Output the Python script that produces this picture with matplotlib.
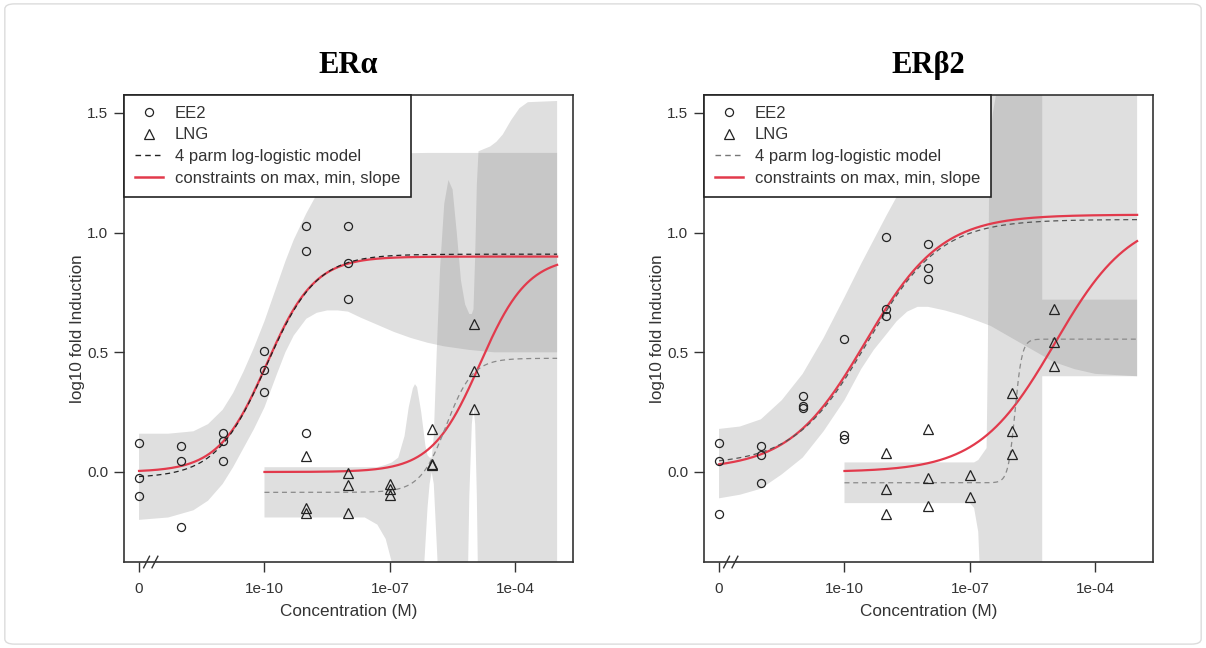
import numpy as np
import matplotlib.pyplot as plt
from matplotlib.lines import Line2D
from matplotlib.patches import FancyBboxPatch

plt.rcParams['font.family'] = ['Liberation Sans', 'DejaVu Sans']

# doses (M); 0 = solvent control, drawn at 1e-13 on the broken axis
ee2_dose = [0, 1e-12, 1e-11, 1e-10, 1e-9, 1e-8]
lng_dose = [1e-9, 1e-8, 1e-7, 1e-6, 1e-5]
ctrl_pos = 1e-13

# log10 fold induction, replicates per dose
era_ee2 = [[0.12, -0.025, -0.10], [0.108, 0.044, -0.229], [0.162, 0.13, 0.048],
           [0.505, 0.425, 0.335], [1.028, 0.925, 0.162], [1.028, 0.875, 0.723]]
era_lng = [[0.065, -0.152, -0.17], [-0.004, -0.053, -0.173], [-0.05, -0.07, -0.095],
           [0.18, 0.035, 0.028], [0.62, 0.422, 0.263]]
erb_ee2 = [[0.122, 0.048, -0.177], [0.11, 0.072, -0.048], [0.318, 0.277, 0.266],
           [0.554, 0.155, 0.138], [0.98, 0.681, 0.651], [0.953, 0.852, 0.806]]
erb_lng = [[0.08, -0.07, -0.177], [0.18, -0.025, -0.14], [-0.011, -0.104],
           [0.33, 0.173, 0.076], [0.679, 0.544, 0.443]]

# fitted LL.4 parameters: b, c, d, log10(e)
era_ee2_ll4 = [-0.72, -0.025, 0.91, -9.96]
era_ee2_con = [-0.755, 0.0, 0.90, -9.95]
era_lng_ll4 = [-1.377, -0.085, 0.475, -5.65]
era_lng_con = [-0.755, 0.0, 0.90, -4.85]
erb_ee2_ll4 = [-0.50, 0.03, 1.055, -9.45]
erb_ee2_con = [-0.478, 0.01, 1.075, -9.50]
erb_lng_ll4 = [-5.2, -0.045, 0.555, -5.92]
erb_lng_con = [-0.478, 0.0, 1.075, -4.97]

# confidence bands of the 4 parm fits (log10 dose, lower, upper)
era_ee2_bx = [-13, -12.3, -11.7, -11.35, -11, -10.75, -10.5, -10.25, -10, -9.7, -9.5, -9.3, -9,
              -8.75, -8.5, -8.25, -8, -7.7, -7.3, -6.9, -6.5, -6.1, -5.7, -5.1, -4.5, -3]
era_ee2_lo = [-0.20, -0.19, -0.16, -0.12, -0.05, 0.02, 0.10, 0.18, 0.27, 0.41, 0.50, 0.57, 0.64,
              0.665, 0.675, 0.675, 0.67, 0.645, 0.615, 0.585, 0.56, 0.54, 0.525, 0.51, 0.50, 0.50]
era_ee2_hi = [0.16, 0.16, 0.17, 0.20, 0.26, 0.33, 0.42, 0.52, 0.63, 0.78, 0.88, 0.97, 1.08,
              1.16, 1.22, 1.26, 1.285, 1.305, 1.32, 1.328, 1.332, 1.333, 1.333, 1.333, 1.333, 1.333]

era_lng_bx = [-10, -7.6, -7.3, -7.1, -6.95, -6.8, -6.65, -6.55, -6.45, -6.4, -6.35, -6.25, -6.15, -6.1,
              -6.05, -6.0, -5.95, -5.88, -5.8, -5.7, -5.6, -5.5, -5.4, -5.3, -5.2, -5.15, -5.1,
              -5.04, -5.0, -4.96, -4.92, -4.88, -4.6, -4.45, -4.3, -4.1, -3.9, -3.7, -3]
era_lng_lo = [-0.19, -0.19, -0.22, -0.28, -0.38, -0.6, -0.6, -0.6, -0.6, -0.6, -0.6, -0.6, -0.3, -0.15,
              -0.05, 0.0, -0.05, -0.3, -0.6, -0.6, -0.6, -0.6, -0.6, -0.6, -0.6, -0.6, -0.1,
              0.2, 0.27, 0.2, -0.1, -0.6, -0.6, -0.6, -0.6, -0.6, -0.6, -0.6, -0.6]
era_lng_hi = [0.02, 0.02, 0.02, 0.03, 0.04, 0.06, 0.15, 0.27, 0.35, 0.367, 0.355, 0.25, 0.11, 0.07,
              0.06, 0.06, 0.15, 0.5, 0.85, 1.12, 1.22, 1.18, 1.0, 0.8, 0.7, 0.68, 0.66,
              0.66, 0.68, 0.9, 1.2, 1.34, 1.36, 1.38, 1.41, 1.47, 1.52, 1.545, 1.55]

erb_ee2_bx = [-13, -12.5, -12, -11.5, -11, -10.5, -10, -9.6, -9.3, -9, -8.75, -8.5, -8.3, -8.1, -7.9,
              -7.65, -7.3, -3]
erb_ee2_hi = [0.18, 0.19, 0.22, 0.30, 0.41, 0.56, 0.73, 0.87, 0.97, 1.07, 1.15, 1.24, 1.31, 1.39, 1.48,
              1.60, 2.0, 2.0]
erb_ee2_lx = [-13, -12.5, -12, -11.5, -11, -10.5, -10, -9.6, -9.3, -9, -8.75, -8.5, -8.25, -8, -7.6,
              -7.2, -6.8, -6.5, -6, -5.5, -5, -4.5, -4, -3]
erb_ee2_lo = [-0.11, -0.095, -0.07, -0.01, 0.06, 0.17, 0.30, 0.43, 0.51, 0.575, 0.63, 0.67, 0.69, 0.69,
              0.675, 0.655, 0.63, 0.61, 0.56, 0.51, 0.46, 0.43, 0.41, 0.40]

erb_lng_bx = [-10, -7.0, -6.9, -6.8, -6.72, -6.6, -6.57, -6.54, -6.5, -6.45, -6.38, -6.3, -5.27, -5.27, -3]
erb_lng_lo = [-0.13, -0.13, -0.15, -0.25, -0.6, -0.6, -0.6, -0.6, -0.6, -0.6, -0.6, -0.6, -0.6, 0.40, 0.40]
erb_lng_hi = [0.04, 0.04, 0.04, 0.05, 0.07, 0.10, 0.5, 1.2, 1.42, 1.5, 1.57, 2.0, 2.0, 0.72, 0.72]

titles = ['ER\u03b1', 'ER\u03b22']
xtick_pos = [1e-13, 1e-10, 1e-7, 1e-4]
xtick_lab = ['0', '1e-10', '1e-07', '1e-04']
ytick_pos = [0.0, 0.5, 1.0, 1.5]
legend_lab = ['EE2', 'LNG', '4 parm log-logistic model', 'constraints on max, min, slope']


def ll4(x, p):
    b, c, d, le = p
    return c + (d - c) / (1 + np.exp(b * (np.log(x) - le * np.log(10))))


def scatter_reps(ax, dose, reps, marker, ms):
    for dd, vals in zip(dose, reps):
        xx = [ctrl_pos if dd == 0 else dd] * len(vals)
        ax.plot(xx, vals, linestyle='none', marker=marker, ms=ms, mfc='none',
                mec='#222222', mew=0.9, zorder=5)


RED = '#e23a4c'
BAND = (0.5, 0.5, 0.5, 0.25)

panels = [
    (era_ee2, era_lng, era_ee2_ll4, era_ee2_con, era_lng_ll4, era_lng_con,
     (era_ee2_bx, era_ee2_lo, era_ee2_bx, era_ee2_hi), (era_lng_bx, era_lng_lo, era_lng_bx, era_lng_hi),
     '#222222', '#8a8a8a', '#222222'),
    (erb_ee2, erb_lng, erb_ee2_ll4, erb_ee2_con, erb_lng_ll4, erb_lng_con,
     (erb_ee2_lx, erb_ee2_lo, erb_ee2_bx, erb_ee2_hi), (erb_lng_bx, erb_lng_lo, erb_lng_bx, erb_lng_hi),
     '#555555', '#8a8a8a', '#777777'),
]

fig = plt.figure(figsize=(12.06, 6.48), dpi=100)
fig.patches.append(FancyBboxPatch((0.004, 0.006), 0.992, 0.988,
                                  boxstyle='round,pad=0,rounding_size=0.008',
                                  transform=fig.transFigure, fc='white',
                                  ec='#dcdcdc', lw=1.0, zorder=-10))

lefts = [124 / 1206, 704 / 1206]
w = 449 / 1206
b0 = (648 - 562) / 648
h = (562 - 95) / 648

x_ee2 = np.logspace(-13, -3, 400)
x_lng = np.logspace(-10, -3, 400)

for i, (ee2, lng, p_e1, p_e2, p_l1, p_l2, band_e, band_l, dcol_e, dcol_l, dcol_leg) in enumerate(panels):
    ax = fig.add_axes([lefts[i], b0, w, h])
    ax.set_xscale('log')

    for lx, lo, hx, hi in (band_e, band_l):
        # polygon: lower edge left->right, upper edge right->left
        px = np.concatenate([10 ** np.array(lx, float), 10 ** np.array(hx, float)[::-1]])
        py = np.concatenate([lo, hi[::-1]])
        ax.fill(px, py, color=BAND, lw=0, zorder=1)

    ax.plot(x_ee2, ll4(x_ee2, p_e2), color=RED, lw=1.6, zorder=3)
    ax.plot(x_lng, ll4(x_lng, p_l2), color=RED, lw=1.6, zorder=3)
    ax.plot(x_ee2, ll4(x_ee2, p_e1), color=dcol_e, lw=0.9, ls=(0, (4, 3)), zorder=4)
    ax.plot(x_lng, ll4(x_lng, p_l1), color=dcol_l, lw=0.9, ls=(0, (4, 3)), zorder=4)

    scatter_reps(ax, ee2_dose, ee2, 'o', 5.8)
    scatter_reps(ax, lng_dose, lng, '^', 6.6)

    ax.set_xlim(10 ** -13.36, 10 ** -2.62)
    ax.set_ylim(-0.376, 1.575)
    ax.set_xticks(xtick_pos)
    ax.set_xticklabels(xtick_lab)
    ax.xaxis.set_minor_locator(plt.NullLocator())
    ax.set_yticks(ytick_pos)
    ax.set_yticklabels(['%.1f' % v for v in ytick_pos])
    ax.tick_params(direction='out', length=7, width=1.0, color='#333333',
                   labelsize=11, labelcolor='#333333')
    ax.tick_params(axis='x', pad=7.5)
    ax.tick_params(axis='y', pad=4.5)
    for s in ax.spines.values():
        s.set_color('#333333')
        s.set_linewidth(1.2)
    ax.set_xlabel('Concentration (M)', fontsize=12.3, color='#333333', labelpad=5.5)
    ax.set_ylabel('log10 fold Induction', fontsize=12.3, color='#333333', labelpad=1.5)
    ax.set_title(titles[i], family=['Liberation Serif', 'DejaVu Serif'],
                 fontweight='bold', fontsize=22, pad=16)

    # axis break marks next to the control dose
    for xb in (-12.82, -12.62):
        ax.plot([10 ** (xb - 0.07), 10 ** (xb + 0.07)], [-0.40, -0.352],
                color='#333333', lw=1.0, clip_on=False, zorder=6)

    handles = [
        Line2D([], [], ls='none', marker='o', ms=5.8, mfc='none', mec='#222222', mew=0.9),
        Line2D([], [], ls='none', marker='^', ms=6.6, mfc='none', mec='#222222', mew=0.9),
        Line2D([], [], color=dcol_leg, lw=1.0, ls=(0, (4, 3))),
        Line2D([], [], color=RED, lw=1.8),
    ]
    leg = ax.legend(handles, legend_lab, loc='upper left', borderaxespad=0,
                    fontsize=12, frameon=True, fancybox=False, framealpha=1,
                    edgecolor='#222222', handlelength=1.7, handletextpad=0.7,
                    labelspacing=0.4, borderpad=0.65)
    leg.get_frame().set_linewidth(1.2)
    leg.set_zorder(10)
    for t in leg.get_texts():
        t.set_color('#333333')

fig.savefig('out.png', dpi=100)
